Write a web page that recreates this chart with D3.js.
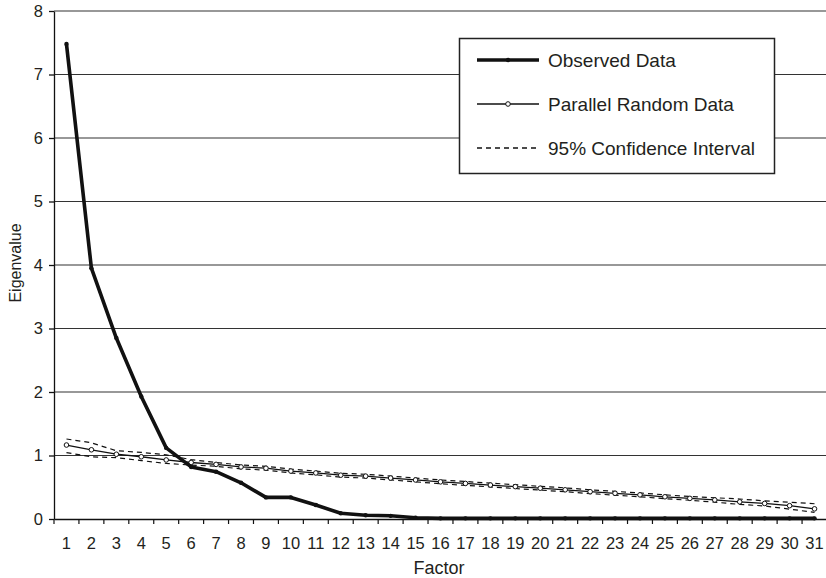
<!DOCTYPE html>
<html>
<head>
<meta charset="utf-8">
<script src="https://cdn.jsdelivr.net/npm/d3@7"></script>
<style>
  body { margin: 0; background: #fff; }
  text { font-family: "Liberation Sans", Arial, sans-serif; fill: #231f20; }
</style>
</head>
<body>
<div id="chart"></div>
<script>
var factors = [1, 2, 3, 4, 5, 6, 7, 8, 9, 10, 11, 12, 13, 14, 15, 16,
               17, 18, 19, 20, 21, 22, 23, 24, 25, 26, 27, 28, 29, 30, 31];
var yTicks = [0, 1, 2, 3, 4, 5, 6, 7, 8];

var observed = [7.48, 3.95, 2.85, 1.93, 1.12, 0.82, 0.745, 0.57, 0.34, 0.34,
                0.22, 0.09, 0.06, 0.05, 0.02, 0.01, 0.01, 0.01, 0.01, 0.01,
                0.01, 0.01, 0.01, 0.01, 0.01, 0.01, 0.01, 0.01, 0.01, 0.01, 0.01];
var parallel = [1.165, 1.09, 1.02, 0.98, 0.93, 0.89, 0.86, 0.82, 0.80, 0.755,
                0.725, 0.69, 0.675, 0.645, 0.615, 0.585, 0.56, 0.535, 0.51, 0.485,
                0.46, 0.43, 0.405, 0.38, 0.35, 0.325, 0.30, 0.27, 0.245, 0.21, 0.16];
var ciUpper = [1.26, 1.20, 1.075, 1.05, 1.01, 0.935, 0.89, 0.85, 0.83, 0.785,
               0.755, 0.72, 0.705, 0.675, 0.645, 0.615, 0.59, 0.565, 0.54, 0.515,
               0.49, 0.46, 0.435, 0.41, 0.38, 0.355, 0.335, 0.315, 0.285, 0.265, 0.24];
var ciLower = [1.045, 0.98, 0.965, 0.92, 0.875, 0.85, 0.83, 0.79, 0.77, 0.725,
               0.695, 0.66, 0.645, 0.615, 0.585, 0.555, 0.53, 0.505, 0.48, 0.455,
               0.43, 0.40, 0.375, 0.35, 0.32, 0.295, 0.265, 0.23, 0.205, 0.155, 0.105];

var legendItems = ["Observed Data", "Parallel Random Data", "95% Confidence Interval"];

var width = 826, height = 578;
var svg = d3.select("#chart").append("svg")
  .attr("width", width)
  .attr("height", height);

var x = d3.scaleBand().domain(factors).range([54, 827]);
var y = d3.scaleLinear().domain([0, 8]).range([519, 11]);
var cx = function(d, i) { return x(factors[i]) + x.bandwidth() / 2; };

// horizontal gridlines
svg.append("g")
  .selectAll("line")
  .data(yTicks.filter(function(d) { return d > 0; }))
  .join("line")
  .attr("x1", 54)
  .attr("x2", width)
  .attr("y1", function(d) { return y(d); })
  .attr("y2", function(d) { return y(d); })
  .attr("stroke", "#333")
  .attr("stroke-width", 1.2);

// y axis
var yAxis = svg.append("g")
  .attr("transform", "translate(54,0)")
  .call(d3.axisLeft(y).tickValues(yTicks).tickFormat(d3.format("d")).tickSize(5).tickPadding(6).tickSizeOuter(0));
yAxis.selectAll("text").style("font-size", "16.5px");
yAxis.selectAll("line, path").attr("stroke", "#111").attr("stroke-width", 1.3);

// x axis labels
var xAxis = svg.append("g")
  .attr("transform", "translate(0,519)")
  .call(d3.axisBottom(x).tickSize(0).tickPadding(18).tickSizeOuter(0));
xAxis.select("path").attr("stroke", "#111").attr("stroke-width", 1.3);
xAxis.selectAll("text").style("font-size", "16.5px");

// x tick marks at band edges
svg.append("g")
  .selectAll("line")
  .data(factors)
  .join("line")
  .attr("x1", function(d) { return x(d); })
  .attr("x2", function(d) { return x(d); })
  .attr("y1", 519)
  .attr("y2", 524)
  .attr("stroke", "#111")
  .attr("stroke-width", 1.2);

// axis titles
svg.append("text")
  .attr("transform", "translate(15,263) rotate(-90)")
  .attr("text-anchor", "middle")
  .attr("dominant-baseline", "central")
  .style("font-size", "16px")
  .text("Eigenvalue");

svg.append("text")
  .attr("x", 439)
  .attr("y", 574)
  .attr("text-anchor", "middle")
  .style("font-size", "18px")
  .text("Factor");

var line = d3.line()
  .x(cx)
  .y(function(d) { return y(d); });

// confidence interval
[ciUpper, ciLower].forEach(function(s) {
  svg.append("path")
    .datum(s)
    .attr("d", line)
    .attr("fill", "none")
    .attr("stroke", "#111")
    .attr("stroke-width", 1.2)
    .attr("stroke-dasharray", "5,4");
});

// parallel random data
svg.append("path")
  .datum(parallel)
  .attr("d", line)
  .attr("fill", "none")
  .attr("stroke", "#111")
  .attr("stroke-width", 1.3);
svg.append("g")
  .selectAll("circle")
  .data(parallel)
  .join("circle")
  .attr("cx", cx)
  .attr("cy", function(d) { return y(d); })
  .attr("r", 2.3)
  .attr("fill", "#fff")
  .attr("stroke", "#111")
  .attr("stroke-width", 1);

// observed data
svg.append("path")
  .datum(observed)
  .attr("d", line)
  .attr("fill", "none")
  .attr("stroke", "#111")
  .attr("stroke-width", 3.6)
  .attr("stroke-linejoin", "round");
svg.append("g")
  .selectAll("circle")
  .data(observed)
  .join("circle")
  .attr("cx", cx)
  .attr("cy", function(d) { return y(d); })
  .attr("r", 2.2)
  .attr("fill", "#111");

// legend
var legend = svg.append("g");
legend.append("rect")
  .attr("x", 459.5)
  .attr("y", 38.5)
  .attr("width", 315)
  .attr("height", 135)
  .attr("fill", "#fff")
  .attr("stroke", "#222")
  .attr("stroke-width", 1.5);

var rows = legend.selectAll("g.row")
  .data(legendItems)
  .join("g")
  .attr("class", "row")
  .attr("transform", function(d, i) { return "translate(0," + (60 + i * 44) + ")"; });

rows.append("line")
  .attr("x1", 477)
  .attr("x2", 539)
  .attr("stroke", "#111")
  .attr("stroke-width", function(d, i) { return i === 0 ? 3.6 : 1.3; })
  .attr("stroke-dasharray", function(d, i) { return i === 2 ? "5,4" : null; });

rows.filter(function(d, i) { return i === 0; })
  .append("circle").attr("cx", 508).attr("r", 2.2).attr("fill", "#111");
rows.filter(function(d, i) { return i === 1; })
  .append("circle").attr("cx", 508).attr("r", 2.3)
  .attr("fill", "#fff").attr("stroke", "#111").attr("stroke-width", 1);

rows.append("text")
  .attr("x", 548)
  .attr("dy", "0.36em")
  .style("font-size", "19px")
  .text(function(d) { return d; });
</script>
</body>
</html>
